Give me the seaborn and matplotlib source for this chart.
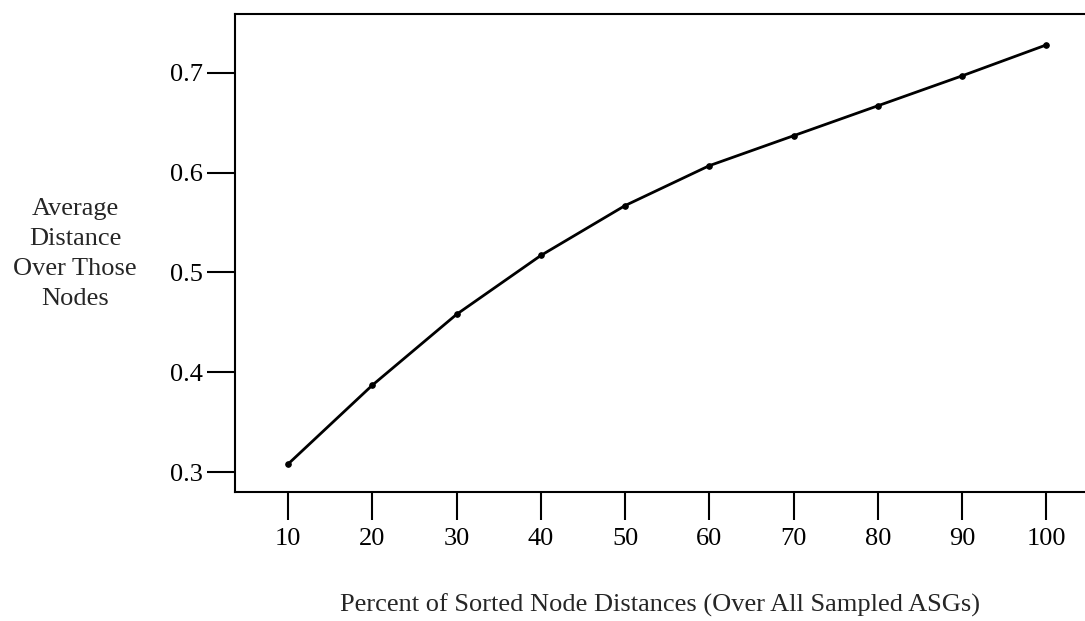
import matplotlib
matplotlib.use("Agg")
import matplotlib.pyplot as plt
import seaborn as sns
import pandas as pd

percent = [10, 20, 30, 40, 50, 60, 70, 80, 90, 100]
avg_distance = [0.308, 0.387, 0.458, 0.517, 0.567, 0.607, 0.637, 0.667, 0.697, 0.728]
x_ticks = [10, 20, 30, 40, 50, 60, 70, 80, 90, 100]
y_ticks = [0.3, 0.4, 0.5, 0.6, 0.7]

sns.set_style("ticks")
plt.rcParams['font.family'] = ['Liberation Serif', 'DejaVu Serif']

df = pd.DataFrame({"percent": percent, "avg": avg_distance})

fig = plt.figure(figsize=(10.85, 6.21), dpi=100)
ax = fig.add_axes([235/1085, 1-492/621, 1-235/1085, (492-14)/621])
sns.lineplot(data=df, x="percent", y="avg", ax=ax, color="black", linewidth=2.0,
             marker="o", markersize=4, markeredgecolor="black")

ax.set_xlim(3.7, 104.6)
ax.set_ylim(0.28, 0.759)
ax.set_xticks(x_ticks)
ax.set_xticklabels([str(v) for v in x_ticks])
ax.set_yticks(y_ticks)
ax.set_yticklabels([f"{v:.1f}" for v in y_ticks])
ax.tick_params(axis='both', direction='out', length=20, width=1.5, labelsize=19, colors='black')
ax.tick_params(axis='y', pad=3)
ax.tick_params(axis='x', pad=6)
for s in ['left', 'bottom', 'top']:
    ax.spines[s].set_linewidth(1.5)
    ax.spines[s].set_color('black')
ax.spines['right'].set_visible(False)
ax.set_xlabel("")
ax.set_ylabel("")

fig.text(75/1085, 1-254/621, "Average\nDistance\nOver Those\nNodes", ha='center', va='center',
         fontsize=19, linespacing=1.47)
fig.text(660/1085, 1-605/621, "Percent of Sorted Node Distances (Over All Sampled ASGs)",
         ha='center', va='center', fontsize=19)

fig.savefig("out.png", dpi=100)
